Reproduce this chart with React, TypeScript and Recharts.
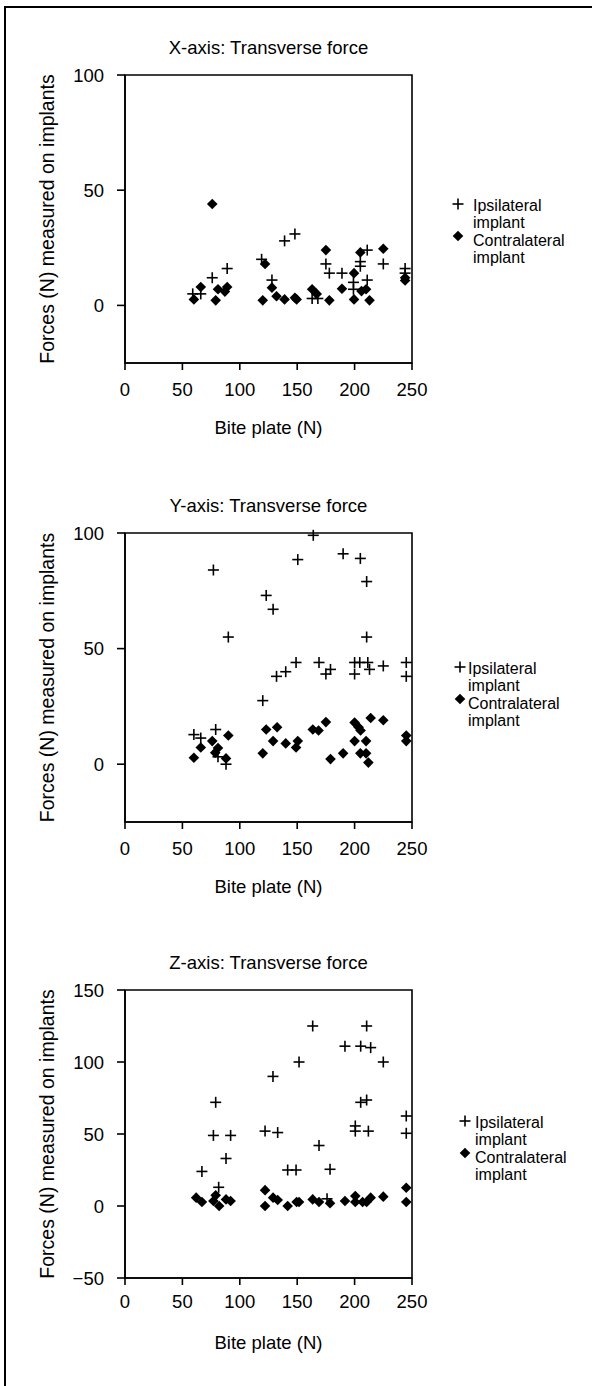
import React from 'react';
import { ScatterChart, Scatter, XAxis, YAxis, ReferenceArea } from 'recharts';

const FONT = '"Liberation Sans", Arial, Helvetica, sans-serif';

// Shared axis ticks / labels
const BITE_TICKS = [0, 50, 100, 150, 200, 250];
const TITLES = ['X-axis: Transverse force', 'Y-axis: Transverse force', 'Z-axis: Transverse force'];
const X_LABEL = 'Bite plate (N)';
const Y_LABEL = 'Forces (N) measured on implants';
const LEGEND_IPSI = ['Ipsilateral', 'implant'];
const LEGEND_CONTRA = ['Contralateral', 'implant'];

// Panel 1: X-axis
const X_IPSI_BITE = [59, 66, 76, 89, 119, 128, 139, 148, 163, 168, 175, 178, 189, 199, 199, 205, 205, 211, 211, 225, 244, 244];
const X_IPSI_FORCE = [5, 5, 12, 16, 20, 11, 28, 31, 3, 3, 18, 14, 14, 10, 7, 19, 17, 24, 11, 18, 16, 14];
const X_CONTRA_BITE = [60, 66, 76, 79, 81, 87, 89, 120, 122, 128, 132, 139, 148, 149.5, 163, 167, 175, 178, 189, 199.5, 199.5, 205, 206, 210, 213, 225, 244, 244];
const X_CONTRA_FORCE = [2.6, 8, 44, 2.2, 7, 6, 8, 2.2, 18, 7.7, 4, 2.6, 3.3, 2.6, 7, 5, 24, 2.2, 7.2, 14, 2.6, 23, 6.2, 7, 2.2, 24.6, 12, 10.8];

// Panel 2: Y-axis
const Y_IPSI_BITE = [60, 66, 77, 79, 81, 88, 90, 120, 123, 129, 132, 140, 149, 150.5, 164, 169, 175, 179, 190, 200, 200, 204.5, 205, 210.5, 210.5, 211.5, 213, 225, 245, 245];
const Y_IPSI_FORCE = [12.8, 11.3, 84, 15, 3.2, 0, 55, 27.5, 73, 67, 38, 40, 44, 88.5, 99, 44, 39, 41, 91, 44, 39, 44, 89, 79, 55, 44, 41, 42.5, 44, 38];
const Y_CONTRA_BITE = [60, 66, 76, 78.6, 81, 88, 90, 120, 123, 129, 132.5, 140, 149, 150.5, 163.6, 168.6, 175, 179, 190, 200, 200, 203.5, 205, 205.2, 210, 210, 212, 214, 225, 245, 245];
const Y_CONTRA_FORCE = [2.8, 7.2, 10, 5, 7, 2.5, 12.4, 4.7, 15, 10, 16, 9, 7.2, 10, 15, 14.6, 18.2, 2.2, 4.7, 18, 10, 16, 4.7, 14.6, 10, 4.7, 0.7, 20, 19, 12.4, 10];

// Panel 3: Z-axis
const Z_IPSI_BITE = [67, 77, 79, 81.6, 88, 92, 122, 128.9, 133, 141.7, 149, 151.6, 163.5, 169, 176, 178.6, 191.6, 200.6, 200.6, 205.3, 205.3, 210.5, 210.5, 212, 214, 225, 245, 245];
const Z_IPSI_FORCE = [24, 49, 72, 13, 33, 49, 52, 90, 51, 25, 25, 100, 125, 42, 5, 25.5, 111, 55.6, 52, 111, 72, 125, 73.6, 52, 110, 100, 62.5, 50.5];
const Z_CONTRA_BITE = [62, 67, 77, 79, 82, 88, 92, 122, 122, 129, 133, 141.7, 149.5, 151.6, 163.5, 169, 178.6, 191.6, 200.6, 200.6, 207, 210.5, 214, 225, 245, 245];
const Z_CONTRA_FORCE = [5.8, 2.8, 3.5, 7.4, 0, 4.6, 3.5, 11, 0, 5.8, 4.2, 0, 2.8, 2.8, 4.6, 2.8, 1.9, 3.5, 6.9, 2.8, 2.8, 2.8, 5.8, 6.5, 12.7, 2.8];

const XY_DOMAIN = [-25, 100];
const XY_TICKS = [0, 50, 100];
const Z_DOMAIN = [-50, 150];
const Z_TICKS = [-50, 0, 50, 100, 150];

const pts = (xs: number[], ys: number[]) => xs.map((x, i) => ({ x, y: ys[i] }));

const PlusShape = (props: any) => {
  const { cx, cy } = props;
  if (cx == null || cy == null) return <g />;
  const h = 5.5;
  return (
    <g stroke="#000" strokeWidth={1.6}>
      <line x1={cx - h} y1={cy} x2={cx + h} y2={cy} />
      <line x1={cx} y1={cy - h} x2={cx} y2={cy + h} />
    </g>
  );
};

const DiamondShape = (props: any) => {
  const { cx, cy } = props;
  if (cx == null || cy == null) return <g />;
  const h = 5.3;
  return <polygon points={`${cx},${cy - h} ${cx + h},${cy} ${cx},${cy + h} ${cx - h},${cy}`} fill="#000" />;
};

const YLabel = (props: any) => {
  const { myX, myY } = props;
  return (
    <text x={myX} y={myY} transform={`rotate(-90, ${myX}, ${myY})`} textAnchor="middle" dominantBaseline="central"
      fontFamily={FONT} fontSize={19.5} fill="#000">{Y_LABEL}</text>
  );
};

const XLabel = (props: any) => {
  const { myX, myY } = props;
  return (
    <text x={myX} y={myY} textAnchor="middle" dominantBaseline="central" fontFamily={FONT} fontSize={18.5} fill="#000">{X_LABEL}</text>
  );
};

const fmt = (v: number) => (v < 0 ? `\u2212${-v}` : `${v}`);

type PanelProps = {
  top: number; height: number; plotTop: number; plotBottom: number;
  domain: number[]; ticks: number[]; title: string;
  ipsi: { x: number; y: number }[]; contra: { x: number; y: number }[];
  xTickMargin: number; xLabelY: number;
};

const Panel = (p: PanelProps) => {
  const marginTop = p.plotTop - p.top;
  const xAxisH = 80;
  const marginBottom = p.height - (p.plotBottom - p.top) - xAxisH;
  const plotCenterY = (p.plotTop + p.plotBottom) / 2 - p.top;
  return (
    <div style={{ position: 'absolute', left: 0, top: p.top, width: 592, height: p.height }}>
      <ScatterChart width={592} height={p.height} margin={{ top: marginTop, right: 180, bottom: marginBottom, left: 25 }}>
        <XAxis type="number" dataKey="x" domain={[0, 250]} ticks={BITE_TICKS} height={xAxisH}
          tick={{ fill: '#000', fontSize: 18.5, fontFamily: FONT }} tickSize={7} tickMargin={p.xTickMargin}
          axisLine={{ stroke: '#000', strokeWidth: 1.6 }} tickLine={{ stroke: '#000', strokeWidth: 1.6 }}
          label={<XLabel myX={268.5} myY={p.xLabelY - p.top} />} />
        <YAxis type="number" dataKey="y" domain={p.domain} ticks={p.ticks} width={100} tickFormatter={fmt}
          tick={{ fill: '#000', fontSize: 18.5, fontFamily: FONT }} tickSize={8} tickMargin={13}
          axisLine={{ stroke: '#000', strokeWidth: 1.6 }} tickLine={{ stroke: '#000', strokeWidth: 1.6 }}
          label={<YLabel myX={47} myY={plotCenterY} />} />
        <ReferenceArea x1={0} x2={250} y1={p.domain[0]} y2={p.domain[1]} fill="none" fillOpacity={0} stroke="#000" strokeWidth={1.6} />
        <Scatter name="Ipsilateral implant" data={p.ipsi} shape={PlusShape} isAnimationActive={false} />
        <Scatter name="Contralateral implant" data={p.contra} shape={DiamondShape} isAnimationActive={false} />
      </ScatterChart>
      <div style={{ position: 'absolute', left: 0, width: 537, top: p.plotTop - p.top - 38, textAlign: 'center',
        fontFamily: FONT, fontSize: 18.5, lineHeight: '22px', color: '#000' }}>{p.title}</div>
    </div>
  );
};

const Legend = ({ markerX, textX, y }: { markerX: number; textX: number; y: number }) => {
  const lh = 17;
  const rows = [LEGEND_IPSI[0], LEGEND_IPSI[1], LEGEND_CONTRA[0], LEGEND_CONTRA[1]];
  return (
    <div>
      <svg style={{ position: 'absolute', left: 0, top: 0 }} width={592} height={1386} pointerEvents="none">
        <PlusShape cx={markerX} cy={y - 1} />
        <DiamondShape cx={markerX} cy={y + 2 * lh - 3} />
      </svg>
      {rows.map((t, i) => (
        <div key={i} style={{ position: 'absolute', left: textX, top: y + i * lh - lh / 2 + (i >= 2 ? 1 : 0), lineHeight: `${lh}px`,
          fontFamily: FONT, fontSize: 16, color: '#000', whiteSpace: 'nowrap' }}>{t}</div>
      ))}
    </div>
  );
};

export default function App() {
  return (
    <div style={{ position: 'absolute', left: 0, top: 0, width: 592, height: 1386, background: '#fff', overflow: 'hidden' }}>
      <div style={{ position: 'absolute', left: 4, top: 6, width: 700, height: 1500, borderTop: '2px solid #000', borderLeft: '2px solid #000' }} />
      <Panel top={0} height={460} plotTop={75} plotBottom={363} domain={XY_DOMAIN} ticks={XY_TICKS} title={TITLES[0]}
        ipsi={pts(X_IPSI_BITE, X_IPSI_FORCE)} contra={pts(X_CONTRA_BITE, X_CONTRA_FORCE)} xTickMargin={13} xLabelY={427} />
      <Panel top={460} height={460} plotTop={533} plotBottom={822} domain={XY_DOMAIN} ticks={XY_TICKS} title={TITLES[1]}
        ipsi={pts(Y_IPSI_BITE, Y_IPSI_FORCE)} contra={pts(Y_CONTRA_BITE, Y_CONTRA_FORCE)} xTickMargin={13} xLabelY={886} />
      <Panel top={920} height={466} plotTop={990} plotBottom={1278} domain={Z_DOMAIN} ticks={Z_TICKS} title={TITLES[2]}
        ipsi={pts(Z_IPSI_BITE, Z_IPSI_FORCE)} contra={pts(Z_CONTRA_BITE, Z_CONTRA_FORCE)} xTickMargin={10} xLabelY={1342} />
      <Legend markerX={458} textX={473} y={205} />
      <Legend markerX={460} textX={468} y={668} />
      <Legend markerX={465} textX={475} y={1122} />
    </div>
  );
}
